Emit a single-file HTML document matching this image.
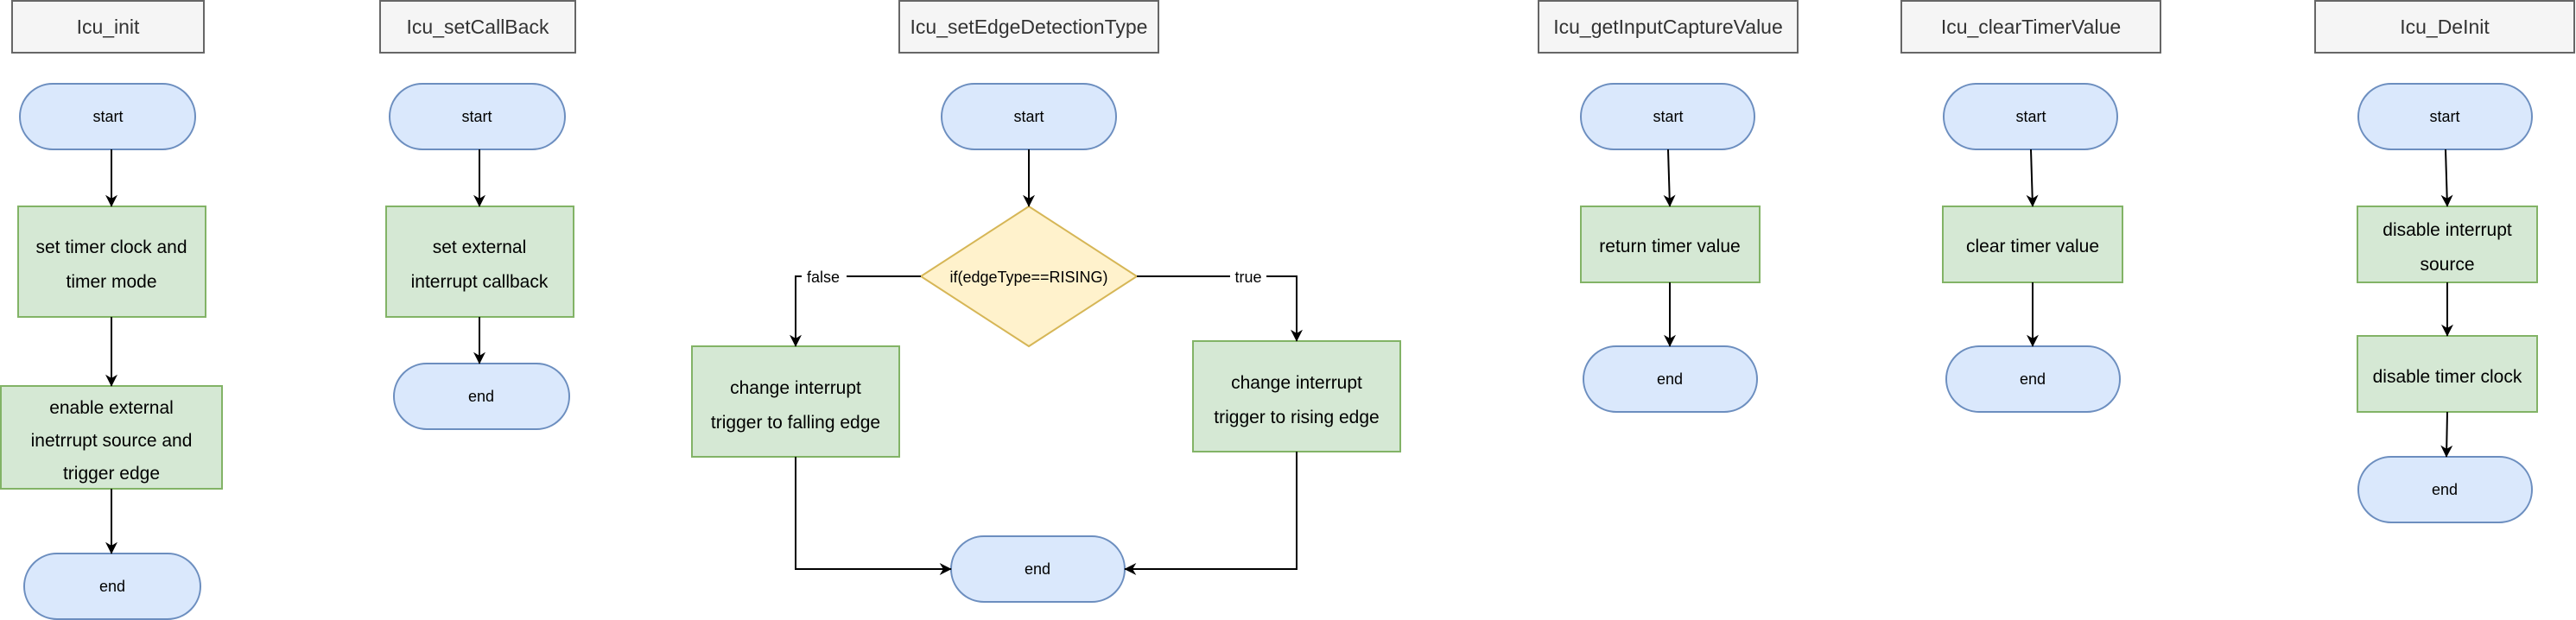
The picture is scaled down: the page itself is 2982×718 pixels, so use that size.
<!DOCTYPE html>
<html><head><meta charset="utf-8"><style>
html,body{margin:0;padding:0;background:#fff;}
svg{display:block;}
text{font-family:"Liberation Sans",sans-serif;}
</style></head><body>
<svg width="2982" height="718" viewBox="0 0 2982 718" xmlns="http://www.w3.org/2000/svg">
<defs>
<marker id="a" viewBox="0 0 10 10" refX="9.5" refY="5" markerWidth="16" markerHeight="14" markerUnits="userSpaceOnUse" orient="auto">
<path d="M0,0 L10,5 L0,10 L3,5 Z" fill="#000"/>
</marker>
</defs>
<g stroke="#666" stroke-width="2" fill="#f5f5f5">
<rect x="14" y="1" width="222" height="60"/>
<rect x="440" y="1" width="226" height="60"/>
<rect x="1041" y="1" width="300" height="60"/>
<rect x="1781" y="1" width="300" height="60"/>
<rect x="2201" y="1" width="300" height="60"/>
<rect x="2680" y="1" width="300" height="60"/>
</g>
<g fill="#333" font-size="23" text-anchor="middle">
<text x="125" y="39">Icu_init</text>
<text x="553" y="39">Icu_setCallBack</text>
<text x="1191" y="39">Icu_setEdgeDetectionType</text>
<text x="1931" y="39">Icu_getInputCaptureValue</text>
<text x="2351" y="39">Icu_clearTimerValue</text>
<text x="2830" y="39">Icu_DeInit</text>
</g>
<g fill="#dae8fc" stroke="#6c8ebf" stroke-width="2">
<rect x="23" y="97" width="203" height="76" rx="38"/>
<rect x="28" y="641" width="204" height="76" rx="38"/>
<rect x="451" y="97" width="203" height="76" rx="38"/>
<rect x="456" y="421" width="203" height="76" rx="38"/>
<rect x="1090" y="97" width="202" height="76" rx="38"/>
<rect x="1101" y="621" width="201" height="76" rx="38"/>
<rect x="1830" y="97" width="201" height="76" rx="38"/>
<rect x="1833" y="401" width="201" height="76" rx="38"/>
<rect x="2250" y="97" width="201" height="76" rx="38"/>
<rect x="2253" y="401" width="201" height="76" rx="38"/>
<rect x="2730" y="97" width="201" height="76" rx="38"/>
<rect x="2730" y="529" width="201" height="76" rx="38"/>
</g>
<g fill="#d5e8d4" stroke="#82b366" stroke-width="2">
<rect x="21" y="239" width="217" height="128"/>
<rect x="1" y="447" width="256" height="119"/>
<rect x="447" y="239" width="217" height="128"/>
<rect x="801" y="401" width="240" height="128"/>
<rect x="1381" y="395" width="240" height="128"/>
<rect x="1830" y="239" width="207" height="88"/>
<rect x="2249" y="239" width="208" height="88"/>
<rect x="2729" y="239" width="208" height="88"/>
<rect x="2729" y="389" width="208" height="88"/>
</g>
<polygon points="1191,239 1316,320 1191,401 1066,320" fill="#fff2cc" stroke="#d6b656" stroke-width="2"/>
<g fill="#000" font-size="18" text-anchor="middle">
<text x="125" y="141">start</text><text x="130" y="685">end</text>
<text x="552" y="141">start</text><text x="557" y="465">end</text>
<text x="1191" y="141">start</text><text x="1201" y="665">end</text>
<text x="1931" y="141">start</text><text x="1933" y="445">end</text>
<text x="2351" y="141">start</text><text x="2353" y="445">end</text>
<text x="2830" y="141">start</text><text x="2830" y="573">end</text>
<text x="1191" y="327" font-size="18">if(edgeType==RISING)</text>
</g>
<g fill="#000" font-size="21" text-anchor="middle">
<text x="129" y="293">set timer clock and</text>
<text x="129" y="333">timer mode</text>
<text x="129" y="479">enable external</text>
<text x="129" y="517">inetrrupt source and</text>
<text x="129" y="555">trigger edge</text>
<text x="555" y="293">set external</text>
<text x="555" y="333">interrupt callback</text>
<text x="921" y="456">change interrupt</text>
<text x="921" y="496">trigger to falling edge</text>
<text x="1501" y="450">change interrupt</text>
<text x="1501" y="490">trigger to rising edge</text>
<text x="1933" y="292">return timer value</text>
<text x="2353" y="292">clear timer value</text>
<text x="2833" y="273">disable interrupt</text>
<text x="2833" y="313">source</text>
<text x="2833" y="443">disable timer clock</text>
</g>
<g stroke="#000" stroke-width="2" fill="none" marker-end="url(#a)">
<path d="M129,173 V239"/>
<path d="M129,367 V447"/>
<path d="M129,566 V641"/>
<path d="M555,173 V239"/>
<path d="M555,367 V421"/>
<path d="M1191,173 V239"/>
<path d="M1066,320 H921 V401"/>
<path d="M1316,320 H1501 V395"/>
<path d="M921,529 V659 H1101"/>
<path d="M1501,523 V659 H1302"/>
<path d="M1931,173 L1933,239"/>
<path d="M1933,327 V401"/>
<path d="M2351,173 L2353,239"/>
<path d="M2353,327 V401"/>
<path d="M2831,173 L2833,239"/>
<path d="M2833,327 V389"/>
<path d="M2833,477 L2832,529"/>
</g>
<rect x="928" y="310" width="52" height="20" fill="#fff"/>
<rect x="1424" y="310" width="42" height="20" fill="#fff"/>
<g fill="#000" font-size="18" text-anchor="middle">
<text x="953" y="327">false</text>
<text x="1445" y="327">true</text>
</g>
</svg>
</body></html>
